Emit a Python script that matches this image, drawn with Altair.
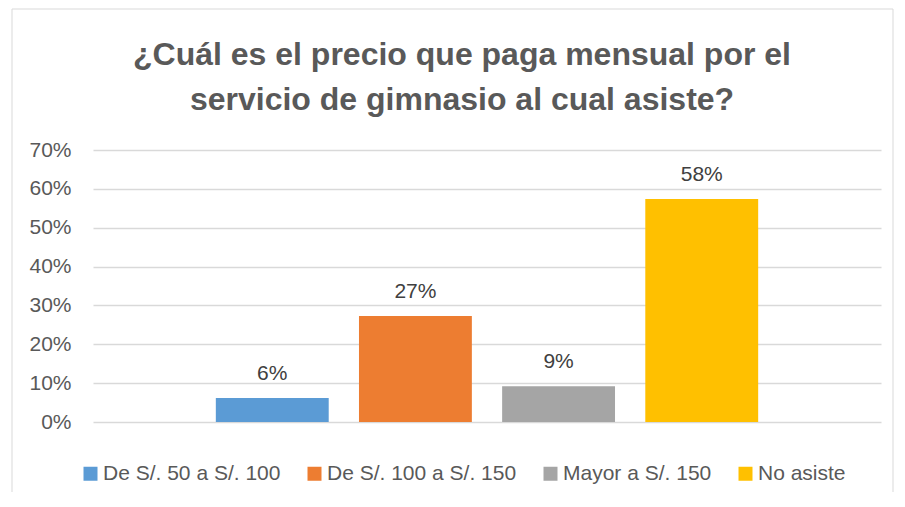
import altair as alt
import pandas as pd

categories = ["De S/. 50 a S/. 100", "De S/. 100 a S/. 150", "Mayor a S/. 150", "No asiste"]
values = [0.062, 0.273, 0.092, 0.574]
labels = ["6%", "27%", "9%", "58%"]
colors = ["#5B9BD5", "#ED7D31", "#A5A5A5", "#FFC000"]
y_ticks = [0, 0.1, 0.2, 0.3, 0.4, 0.5, 0.6, 0.7]
title_lines = ["¿Cuál es el precio que paga mensual por el", "servicio de gimnasio al cual asiste?"]

df = pd.DataFrame({"cat": categories, "val": values, "lab": labels})
FONT = "Liberation Sans"

x_enc = alt.X("cat:N", sort=categories, axis=None,
              scale=alt.Scale(paddingInner=0.2115, paddingOuter=0.858))
y_enc = alt.Y("val:Q", scale=alt.Scale(domain=[0, 0.7], nice=False),
              axis=alt.Axis(values=y_ticks, format=".0%", title=None, domain=False, ticks=False,
                            labelOverlap=False,
                            labelPadding=22, labelFont=FONT, labelFontSize=21, labelColor="#595959",
                            gridColor="#D9D9D9", gridWidth=1.3))

border = alt.Chart(pd.DataFrame({"a": [0]})).mark_rect(
    fillOpacity=0, stroke="#D9D9D9", strokeWidth=1
).encode(x=alt.value(-81), x2=alt.value(800), y=alt.value(-141), y2=alt.value(350))

bars = alt.Chart(df).mark_bar().encode(
    x=x_enc, y=y_enc,
    color=alt.Color("cat:N", sort=categories,
                    scale=alt.Scale(domain=categories, range=colors),
                    legend=alt.Legend(orient="none", legendX=-13, legendY=313, direction="horizontal",
                                      title=None, symbolType="square", symbolSize=196,
                                      symbolStrokeWidth=0, symbolOpacity=1,
                                      labelFont=FONT, labelFontSize=21, labelColor="#595959",
                                      labelOffset=2, columnPadding=23, padding=0, labelLimit=400)),
)

text = alt.Chart(df).mark_text(baseline="middle", dy=-24, font=FONT, fontSize=21, color="#404040").encode(
    x=x_enc, y=y_enc, text="lab:N"
)

chart = alt.layer(border, bars, text).properties(
    width=788, height=272,
    background="white",
    autosize=alt.AutoSizeParams(type="none"),
    padding={"left": 85, "top": 142, "right": 16, "bottom": 70},
    title=alt.Title(title_lines, font=FONT, fontSize=32, fontWeight="bold", color="#595959",
                    lineHeight=45, anchor="middle", offset=-108, dx=-25),
).configure_view(strokeWidth=0)

chart.save("out.html", embed_options={"renderer": "svg", "actions": False})
